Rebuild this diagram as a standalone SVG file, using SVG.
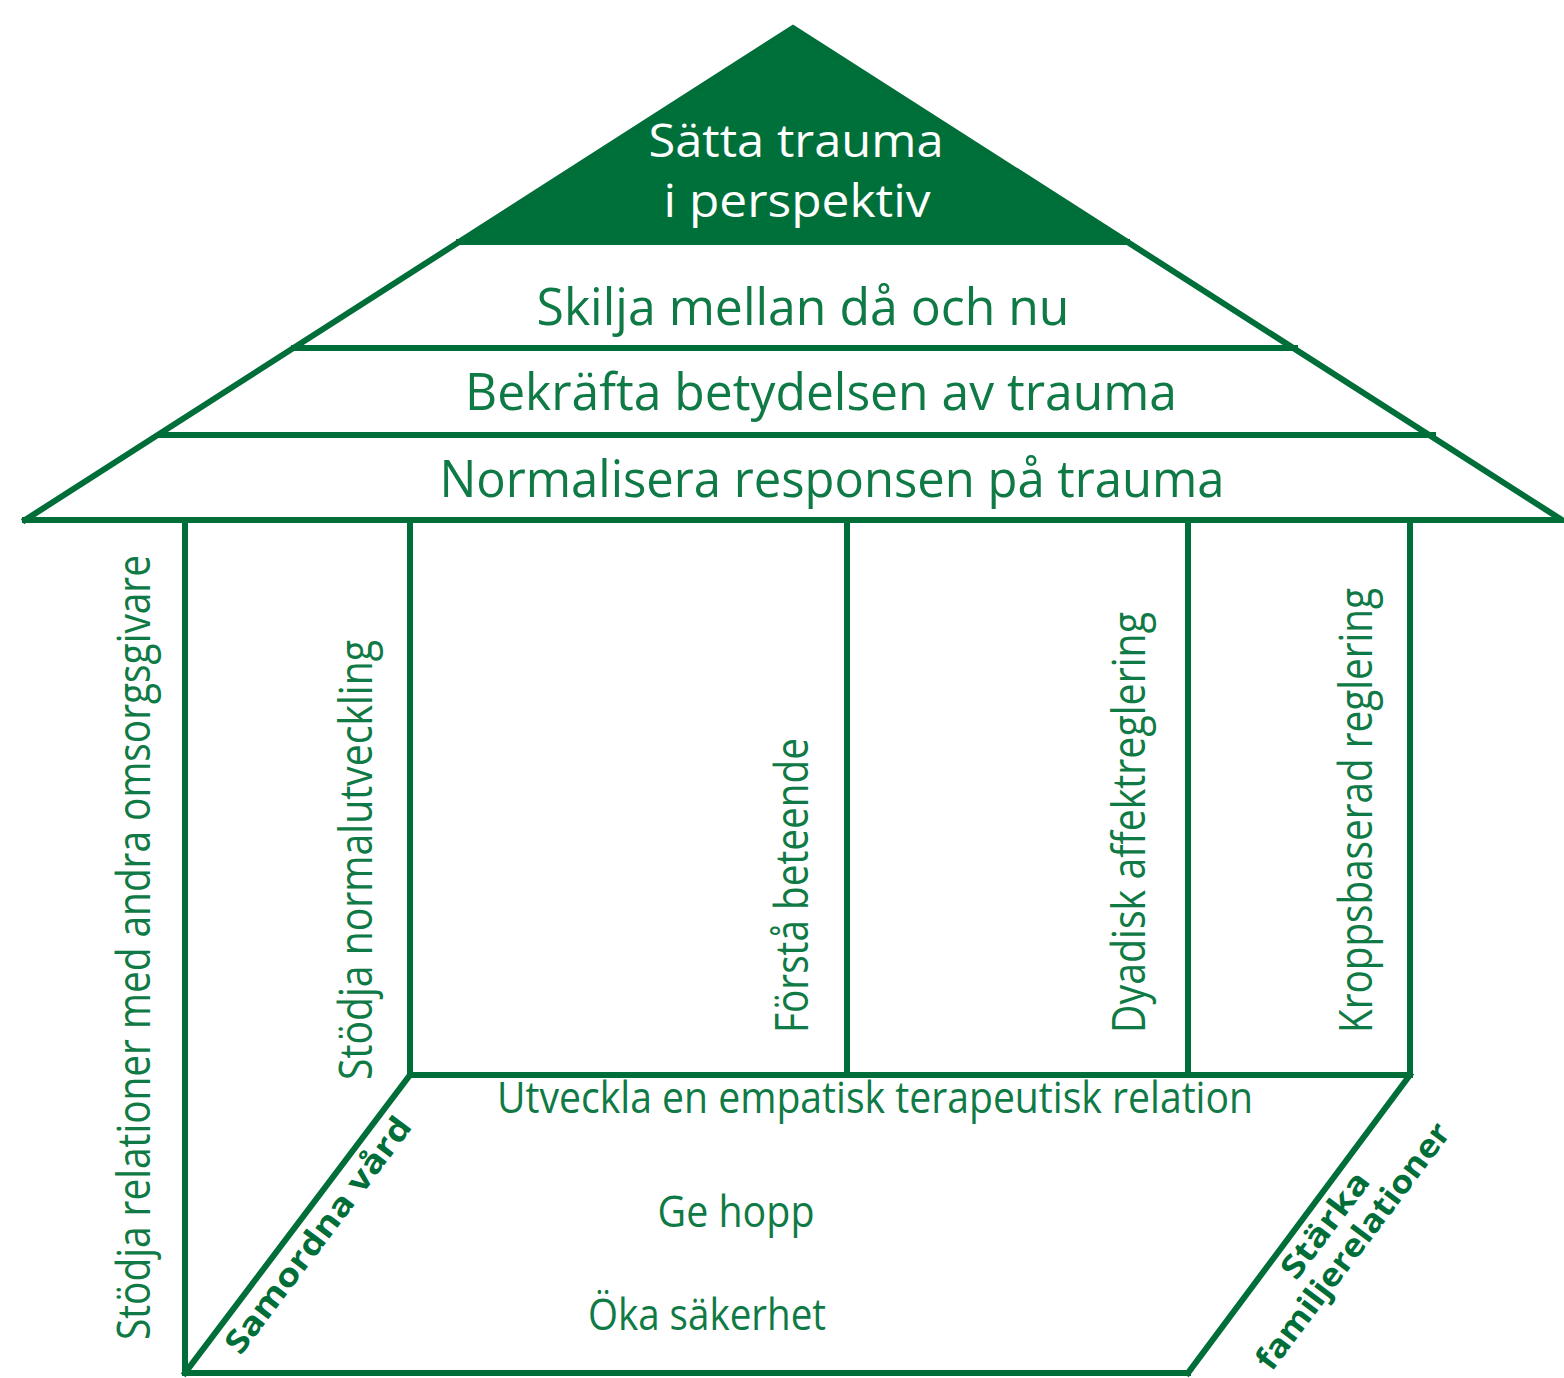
<svg xmlns="http://www.w3.org/2000/svg" width="1564" height="1378" viewBox="0 0 1564 1378">
<style>
.ln{stroke:#006e38;stroke-width:6;fill:none;stroke-linecap:square;stroke-linejoin:miter}
.t{font-family:"Open Sans","Liberation Sans",sans-serif;fill:#0f7a45}
.w{font-family:"Open Sans","Liberation Sans",sans-serif;fill:#ffffff}
.b{font-family:"Open Sans","Liberation Sans",sans-serif;font-weight:bold;fill:#006e38}
</style>
<rect width="1564" height="1378" fill="#ffffff"/>
<g id="roof-top">
<polygon points="793,28 459,242 1127,242" fill="#00703a"/>
<text class="w" x="796" y="157" font-size="46" text-anchor="middle" textLength="295" lengthAdjust="spacingAndGlyphs">Sätta trauma</text>
<text class="w" x="797" y="217" font-size="46" text-anchor="middle" textLength="267" lengthAdjust="spacingAndGlyphs">i perspektiv</text>
</g>
<g id="connectors">
<polyline class="ln" points="25,520 793,28 1562,520 25,520"/>
<line class="ln" x1="459" y1="242" x2="1127" y2="242"/>
<line class="ln" x1="294" y1="348" x2="1295" y2="348"/>
<line class="ln" x1="160" y1="435" x2="1433" y2="435"/>
<line class="ln" x1="185" y1="520" x2="185" y2="1373"/>
<line class="ln" x1="410" y1="520" x2="410" y2="1075"/>
<line class="ln" x1="847" y1="520" x2="847" y2="1075"/>
<line class="ln" x1="1188" y1="520" x2="1188" y2="1075"/>
<line class="ln" x1="1410" y1="520" x2="1410" y2="1075"/>
<line class="ln" x1="410" y1="1075" x2="1410" y2="1075"/>
<line class="ln" x1="185" y1="1373" x2="1188" y2="1373"/>
<line class="ln" x1="410" y1="1075" x2="185" y2="1373"/>
<line class="ln" x1="1410" y1="1075" x2="1188" y2="1373"/>
</g>
<g id="skilja">
<text class="t" x="803" y="325" font-size="52" text-anchor="middle" textLength="533" lengthAdjust="spacingAndGlyphs">Skilja mellan då och nu</text>
</g>
<g id="bekrafta">
<text class="t" x="821" y="410" font-size="52" text-anchor="middle" textLength="712" lengthAdjust="spacingAndGlyphs">Bekräfta betydelsen av trauma</text>
</g>
<g id="normalisera">
<text class="t" x="832" y="497" font-size="52" text-anchor="middle" textLength="785" lengthAdjust="spacingAndGlyphs">Normalisera responsen på trauma</text>
</g>
<g id="stodja-relationer">
<text class="t" transform="translate(150,1340) rotate(-90)" font-size="46" textLength="785" lengthAdjust="spacingAndGlyphs">Stödja relationer med andra omsorgsgivare</text>
</g>
<g id="stodja-normal">
<text class="t" transform="translate(372,1080) rotate(-90)" font-size="46" textLength="440" lengthAdjust="spacingAndGlyphs">Stödja normalutveckling</text>
</g>
<g id="forsta">
<text class="t" transform="translate(808,1033) rotate(-90)" font-size="46" textLength="295" lengthAdjust="spacingAndGlyphs">Förstå beteende</text>
</g>
<g id="dyadisk">
<text class="t" transform="translate(1145,1033) rotate(-90)" font-size="46" textLength="421" lengthAdjust="spacingAndGlyphs">Dyadisk affektreglering</text>
</g>
<g id="kropps">
<text class="t" transform="translate(1372,1033) rotate(-90)" font-size="46" textLength="445" lengthAdjust="spacingAndGlyphs">Kroppsbaserad reglering</text>
</g>
<g id="utveckla">
<text class="t" x="875" y="1113" font-size="44" text-anchor="middle" textLength="756" lengthAdjust="spacingAndGlyphs">Utveckla en empatisk terapeutisk relation</text>
</g>
<g id="ge-hopp">
<text class="t" x="736" y="1227" font-size="44" text-anchor="middle" textLength="157" lengthAdjust="spacingAndGlyphs">Ge hopp</text>
</g>
<g id="oka">
<text class="t" x="707" y="1330" font-size="44" text-anchor="middle" textLength="238" lengthAdjust="spacingAndGlyphs">Öka säkerhet</text>
</g>
<g id="samordna">
<text class="b" transform="translate(318,1235) rotate(-53)" x="0" y="11" font-size="32" text-anchor="middle" textLength="287" lengthAdjust="spacingAndGlyphs">Samordna vård</text>
</g>
<g id="starka">
<g transform="translate(1325,1225) rotate(-53)">
<text class="b" x="0" y="11" font-size="32" text-anchor="middle" textLength="125" lengthAdjust="spacingAndGlyphs">Stärka</text>
<text class="b" x="0" y="46" font-size="32" text-anchor="middle" textLength="300" lengthAdjust="spacingAndGlyphs">familjerelationer</text>
</g>
</g>
</svg>
